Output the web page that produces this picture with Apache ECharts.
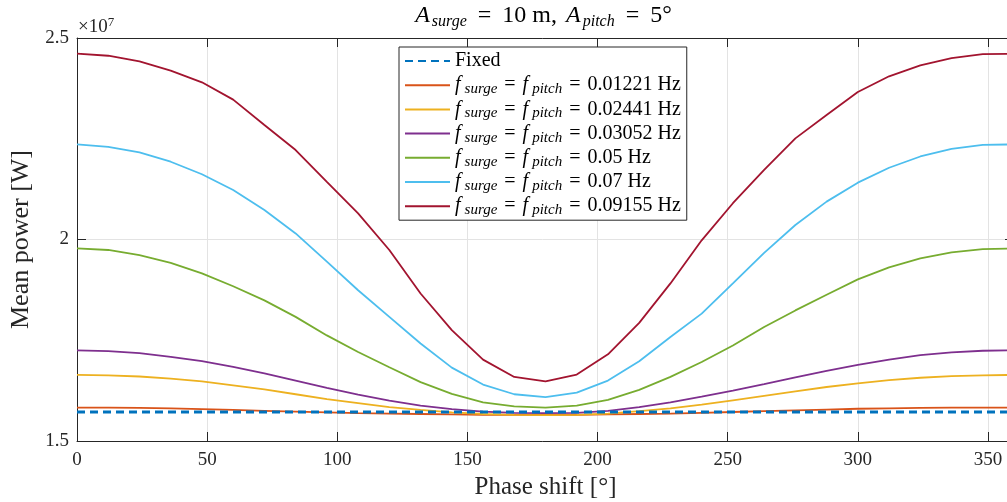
<!DOCTYPE html>
<html>
<head>
<meta charset="utf-8">
<script src="https://cdn.jsdelivr.net/npm/echarts@6/dist/echarts.min.js"></script>
<style>
html,body{margin:0;padding:0;background:#fff;}
#chart{width:1007px;height:502px;}
</style>
</head>
<body>
<div id="chart"></div>
<script>
// Phase shift [deg]
const phaseShift = [0,12,24,36,48,60,72,84,96,108,120,132,144,156,168,180,192,204,216,228,240,252,264,276,288,300,312,324,336,348,360];
// Mean power, in units of 1e7 W
const fixedPower = [1.572,1.572,1.572,1.572,1.572,1.572,1.572,1.572,1.572,1.572,1.572,1.572,1.572,1.572,1.572,1.572,1.572,1.572,1.572,1.572,1.572,1.572,1.572,1.572,1.572,1.572,1.572,1.572,1.572,1.572,1.572];
const f01221 = [1.583,1.583,1.582,1.581,1.579,1.577,1.575,1.573,1.571,1.569,1.568,1.567,1.566,1.565,1.565,1.565,1.565,1.566,1.567,1.568,1.570,1.572,1.574,1.576,1.578,1.580,1.581,1.582,1.583,1.583,1.583];
const f02441 = [1.664,1.663,1.660,1.655,1.648,1.638,1.628,1.616,1.604,1.594,1.584,1.577,1.571,1.567,1.565,1.564,1.565,1.568,1.574,1.581,1.590,1.601,1.612,1.623,1.634,1.643,1.651,1.657,1.661,1.663,1.664];
const f03052 = [1.725,1.723,1.718,1.709,1.698,1.684,1.668,1.650,1.632,1.615,1.600,1.588,1.579,1.573,1.570,1.569,1.570,1.575,1.584,1.596,1.610,1.625,1.641,1.658,1.674,1.689,1.702,1.713,1.720,1.724,1.725];
const f05 = [1.978,1.974,1.961,1.942,1.916,1.884,1.849,1.808,1.762,1.721,1.683,1.646,1.617,1.596,1.586,1.583,1.588,1.602,1.627,1.659,1.696,1.737,1.783,1.824,1.863,1.901,1.931,1.953,1.968,1.976,1.978];
const f07 = [2.236,2.230,2.216,2.193,2.162,2.123,2.073,2.015,1.945,1.874,1.808,1.742,1.682,1.640,1.616,1.609,1.620,1.650,1.698,1.758,1.816,1.891,1.967,2.036,2.094,2.141,2.178,2.206,2.225,2.235,2.236];
const f09155 = [2.461,2.456,2.442,2.419,2.390,2.347,2.284,2.222,2.143,2.065,1.974,1.866,1.775,1.702,1.659,1.648,1.665,1.715,1.793,1.891,1.998,2.090,2.173,2.251,2.309,2.366,2.405,2.432,2.450,2.460,2.461];
const seriesNames = ['Fixed','0.01221 Hz','0.02441 Hz','0.03052 Hz','0.05 Hz','0.07 Hz','0.09155 Hz'];
const seriesValues = [fixedPower,f01221,f02441,f03052,f05,f07,f09155];
const seriesColors = ['#0072BD','#D95319','#EDB120','#7E2F8E','#77AC30','#4DBEEE','#A2142F'];
const xTicks = {min:0, max:360, interval:50};
const yTicks = {min:1.5, max:2.5, interval:0.5};

const FONT = '"Liberation Serif", "DejaVu Serif", serif';
const AX = '#262626';

const chart = echarts.init(document.getElementById('chart'), null, {renderer:'canvas'});

const series = seriesNames.map((n,k)=>({
  name:n,
  type:'line',
  data: phaseShift.map((x,i)=>[x, seriesValues[k][i]]),
  symbol:'none',
  z: k===0 ? 3 : 2,
  lineStyle:{color:seriesColors[k], width: k===0 ? 2.8 : 1.8, type: k===0 ? [8,5] : 'solid'},
  itemStyle:{color:seriesColors[k]},
  emphasis:{disabled:true}
}));

const legendRich = {
  n:{fontFamily:FONT, fontSize:20, color:'#000', lineHeight:24},
  i:{fontFamily:FONT, fontSize:20, fontStyle:'italic', color:'#000', lineHeight:24, padding:[0,3,0,0]},
  s:{fontFamily:FONT, fontSize:15, fontStyle:'italic', color:'#000', lineHeight:16, padding:[8,0,0,1]},
  e:{fontFamily:FONT, fontSize:20, color:'#000', lineHeight:24, padding:[0,7,0,7]}
};

const option = {
  animation:false,
  backgroundColor:'#fff',
  title:{
    text:'{i|A}{s|surge}{e|=}{n|10 m, }{i|A}{s|pitch}{e|=}{n|5°}',
    left:545, top:2, textAlign:'center', padding:0,
    textStyle:{
      fontFamily:FONT, fontSize:24, color:'#000', fontWeight:'normal', lineHeight:28,
      rich:{
        n:{fontFamily:FONT, fontSize:24, color:'#000', lineHeight:28, padding:[0,3,0,0]},
        i:{fontFamily:FONT, fontSize:24, fontStyle:'italic', color:'#000', lineHeight:28, padding:[0,1,0,0]},
        s:{fontFamily:FONT, fontSize:16, fontStyle:'italic', color:'#000', lineHeight:16, padding:[12,0,0,1]},
        e:{fontFamily:FONT, fontSize:24, color:'#000', lineHeight:28, padding:[0,11,0,11]}
      }
    }
  },
  legend:{
    left:399, top:47,
    orient:'vertical',
    itemWidth:45, itemHeight:24, itemGap:0.2,
    padding:[2,6,2,5],
    backgroundColor:'#fff',
    borderColor:AX, borderWidth:1, borderRadius:0,
    selectedMode:false,
    itemStyle:{opacity:0},
    data: seriesNames,
    formatter: function(name){
      if(name==='Fixed') return '{n|Fixed}';
      return '{i|f}{s|surge}{e|=}{i|f}{s|pitch}{e|=}{n|'+name+'}';
    },
    textStyle:{fontFamily:FONT, fontSize:20, color:'#000', lineHeight:24, rich:legendRich}
  },
  grid:{left:77, width:937, top:38, height:403, containLabel:false, outerBoundsMode:'none'},
  xAxis:[{
    type:'value', min:xTicks.min, max:xTicks.max, interval:xTicks.interval,
    name:'Phase shift [°]', nameLocation:'middle', nameGap:34,
    nameTextStyle:{fontFamily:FONT, fontSize:25, color:AX},
    axisLine:{show:true, onZero:false, lineStyle:{color:AX, width:1}},
    axisTick:{show:true, inside:true, length:9, lineStyle:{color:AX, width:1}},
    axisLabel:{fontFamily:FONT, fontSize:19, color:AX, margin:10, showMaxLabel:false},
    splitLine:{show:true, lineStyle:{color:'#e3e3e3', width:1}}
  },{
    type:'value', position:'top', min:xTicks.min, max:xTicks.max, interval:xTicks.interval,
    axisLine:{show:true, onZero:false, lineStyle:{color:AX, width:1}},
    axisTick:{show:true, inside:true, length:9, lineStyle:{color:AX, width:1}},
    axisLabel:{show:false}, splitLine:{show:false}
  }],
  yAxis:[{
    type:'value', min:yTicks.min, max:yTicks.max, interval:yTicks.interval,
    name:'Mean power [W]', nameLocation:'middle', nameGap:29, nameRotate:90,
    nameTextStyle:{fontFamily:FONT, fontSize:26, color:AX},
    axisLine:{show:true, onZero:false, lineStyle:{color:AX, width:1}},
    axisTick:{show:true, inside:true, length:9, lineStyle:{color:AX, width:1}},
    axisLabel:{fontFamily:FONT, fontSize:19, color:AX, margin:8, formatter:(v)=>String(v)},
    splitLine:{show:true, lineStyle:{color:'#e3e3e3', width:1}}
  },{
    type:'value', position:'right', min:yTicks.min, max:yTicks.max, interval:yTicks.interval,
    axisLine:{show:true, onZero:false, lineStyle:{color:AX, width:1}},
    axisTick:{show:true, inside:true, length:9, lineStyle:{color:AX, width:1}},
    axisLabel:{show:false}, splitLine:{show:false}
  }],
  graphic:[{
    type:'text', left:78, top:16,
    style:{
      text:'×10{sup|7}',
      fontFamily:FONT, fontSize:19, fill:AX,
      rich:{sup:{fontFamily:FONT, fontSize:13, fill:AX, verticalAlign:'top', padding:[0,0,9,0]}}
    }
  }],
  series: series
};
chart.setOption(option);
</script>
</body>
</html>
